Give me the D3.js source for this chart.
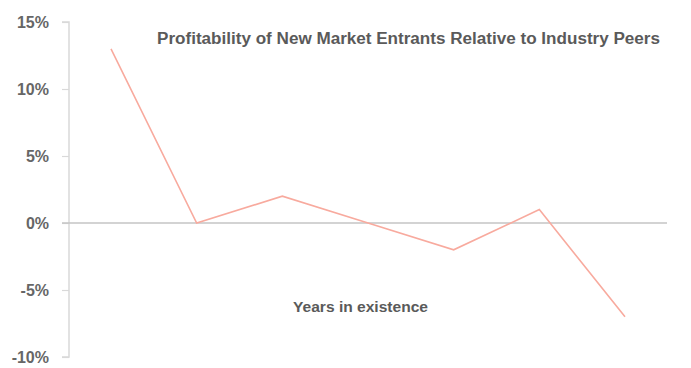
<!DOCTYPE html>
<html><head><meta charset="utf-8">
<script src="https://cdn.jsdelivr.net/npm/d3@7"></script>
<style>body{margin:0;background:#fff}svg{display:block}</style>
</head><body>
<script>
const years = [1, 2, 3, 4, 5, 6, 7];
const profitability = [13, 0, 2, 0, -2, 1, -7];
const yTicks = [-10, -5, 0, 5, 10, 15];
const titleText = "Profitability of New Market Entrants Relative to Industry Peers";
const xLabel = "Years in existence";

const W = 691, H = 368;
const svg = d3.select("body").append("svg").attr("width", W).attr("height", H);
const font = "'Liberation Sans Narrow', 'Liberation Sans', Arial, sans-serif";

const x = d3.scalePoint().domain(years).range([111, 625]);
const y = d3.scaleLinear().domain([-10, 15]).range([357, 22]);

// y axis
const yAxis = d3.axisLeft(y).tickValues(yTicks).tickSize(7).tickPadding(13).tickFormat(d => d + "%");
const ga = svg.append("g").attr("transform", "translate(69,0)").call(yAxis);
ga.select(".domain").attr("stroke", "#d9d9d9").attr("stroke-width", 1.5).attr("d", `M-7,${y(15)}H0V${y(-10)}H-7`);
ga.selectAll(".tick line").attr("stroke", "#d9d9d9").attr("stroke-width", 1.2);
ga.selectAll(".tick text").attr("font-family", font).attr("font-weight", "bold")
  .attr("font-size", 16).attr("fill", "#666");

// zero line
svg.append("line").attr("x1", 62).attr("x2", 667).attr("y1", y(0)).attr("y2", y(0))
  .attr("stroke", "#c4c4c4").attr("stroke-width", 1.3);

// line
const line = d3.line().x((d, i) => x(years[i])).y(d => y(d));
svg.append("path").datum(profitability).attr("d", line).attr("fill", "none")
  .attr("stroke", "#f8aa9e").attr("stroke-width", 1.6);

// title
svg.append("text").attr("x", 157).attr("y", 44).text(titleText)
  .attr("font-family", font).attr("font-weight", "bold").attr("font-size", 16)
  .attr("fill", "#5a5a5a").attr("textLength", 503).attr("lengthAdjust", "spacingAndGlyphs");

// x label
svg.append("text").attr("x", 293).attr("y", 312).text(xLabel)
  .attr("font-family", font).attr("font-weight", "bold").attr("font-size", 15)
  .attr("fill", "#5a5a5a").attr("textLength", 135).attr("lengthAdjust", "spacingAndGlyphs");
</script>
</body></html>
